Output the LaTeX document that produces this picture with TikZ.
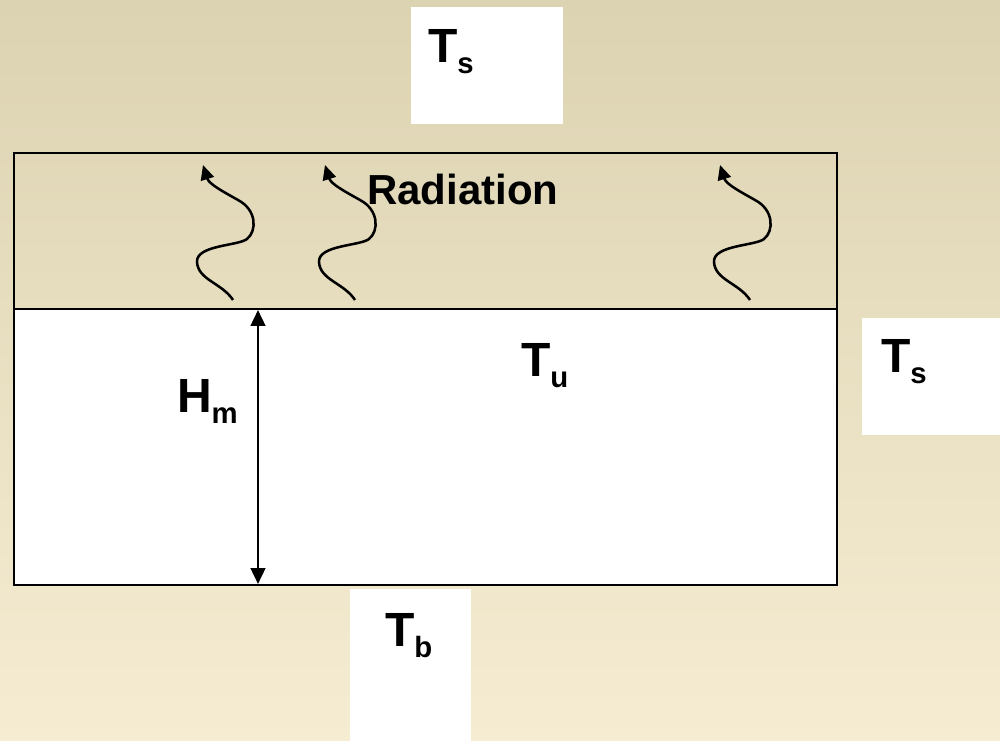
\documentclass[tikz,border=0pt]{standalone}
\usepackage{fontspec}
\setmainfont{Liberation Sans}
\usetikzlibrary{arrows.meta}
\newcommand{\bigsub}[2]{{\fontsize{36}{36}\selectfont\bfseries #1}\raisebox{-8.25pt}{\fontsize{22}{22}\selectfont\bfseries #2}}
\tikzset{
  lbl/.style={anchor=base west, inner sep=0pt, outer sep=0pt},
  wave/.style={line width=1.9pt, -{Triangle[length=11pt,width=10pt]}},
  frame/.style={draw=black, line width=2pt},
  whitebox/.style={fill=white, draw=none}
}
\begin{document}
\begin{tikzpicture}[x=0.75pt,y=-0.75pt]
\shade[top color={rgb,255:red,220;green,211;blue,178}, bottom color={rgb,255:red,246;green,236;blue,210}] (0,0) rectangle (1000,741);
\useasboundingbox (0,0) rectangle (1000,741);
% white label boxes
\fill[whitebox] (411,7) rectangle (563,124);
\fill[whitebox] (862,318) rectangle (1000,435);
\fill[whitebox] (350,589) rectangle (471,741);
% band and body
\draw[frame] (14,153) rectangle (837,309);
\draw[frame, fill=white] (14,309) rectangle (837,585);
% labels
\node[lbl] (ts1) at (428,63) {\bigsub{T}{s}};
\node[lbl] (ts2) at (881,373) {\bigsub{T}{s}};
\node[lbl] (tu) at (521,377) {\bigsub{T}{u}};
\node[lbl] (tb) at (385,646) {\bigsub{T}{b}};
\node[lbl] (hm) at (177,413) {\bigsub{H}{m}};
\node[lbl] (rad) at (367,205) {\fontsize{31.5}{31.5}\selectfont\bfseries Radiation};
% height arrow
\coordinate (htop) at (258,310);
\coordinate (hbot) at (258,584);
\draw[line width=1.9pt, {Triangle[length=12pt,width=11pt]}-{Triangle[length=12pt,width=11pt]}] (htop) -- (hbot);
% waves
\foreach \dx in {0,122,517}{
  \begin{scope}[xshift=\dx*0.75pt]
    \draw[wave] (233,300) .. controls (222,283) and (198,280) .. (197,262)
      .. controls (196,245) and (238,246) .. (247,239)
      .. controls (257,231) and (257,210) .. (238,200)
      .. controls (222,191) and (209,184) .. (203,165);
  \end{scope}
}
\end{tikzpicture}
\end{document}
